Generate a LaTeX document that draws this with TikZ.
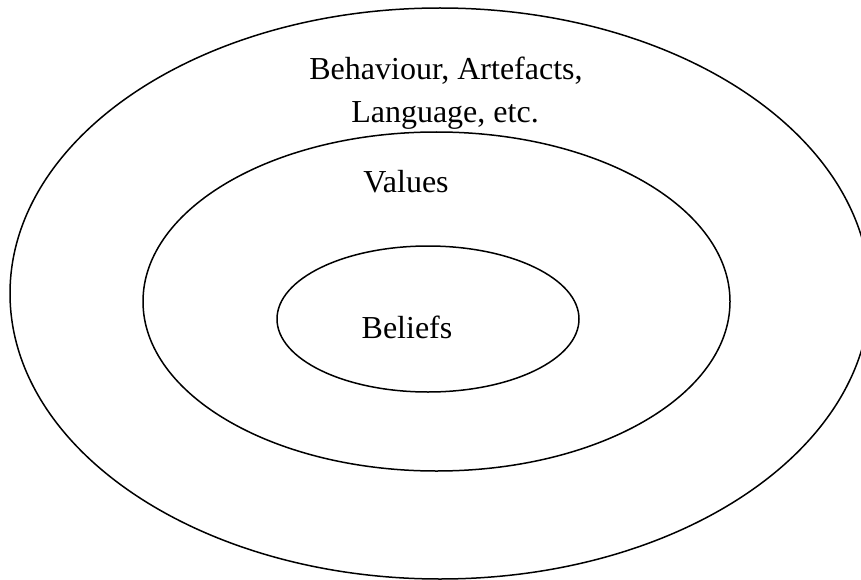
\documentclass[tikz,border=0pt]{standalone}
\usepackage{fontspec}
\setmainfont{Liberation Serif}
\begin{document}
\begin{tikzpicture}[x=1pt,y=-1pt,
  ring/.style={draw=black,line width=1.5pt},
  label/.style={anchor=base,inner sep=0pt,font=\fontsize{32}{38}\selectfont}]
\useasboundingbox (0,0) rectangle (861,580);
% three nested layers
\draw[ring] (440,293.5) ellipse [x radius=430,y radius=285.5];
\draw[ring] (436.5,301.5) ellipse [x radius=293.5,y radius=169.5];
\draw[ring] (428,319) ellipse [x radius=151,y radius=73];
% layer labels
\node[label] (outerA) at (446,80) {Behaviour, Artefacts,};
\node[label] (outerB) at (445,123) {Language, etc.};
\node[label] (middle) at (406,192) {Values};
\node[label] (inner) at (407,338) {Beliefs};
\end{tikzpicture}
\end{document}
